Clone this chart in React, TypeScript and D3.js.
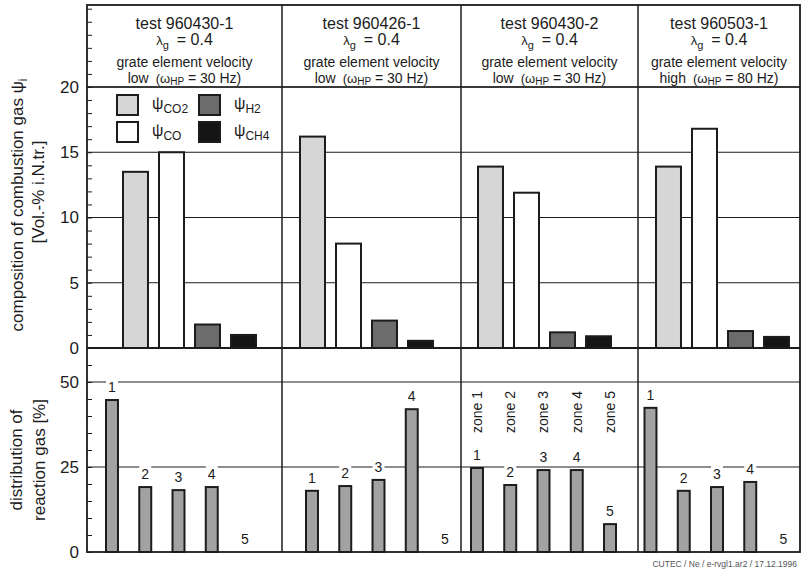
import React, { useEffect, useRef } from "react";
import * as d3 from "d3";

// test runs (one column each)
const tests = ["960430-1", "960426-1", "960430-2", "960503-1"];
const lambdaG = ["0.4", "0.4", "0.4", "0.4"];
const velocity = ["low", "low", "low", "high"];
const frequencyHz = [30, 30, 30, 80];

// composition of combustion gas [Vol.-% i.N.tr.]
const gases = ["CO2", "CO", "H2", "CH4"];
const psiCO2 = [13.5, 16.2, 13.9, 13.9];
const psiCO = [15.0, 8.0, 11.9, 16.8];
const psiH2 = [1.8, 2.1, 1.2, 1.3];
const psiCH4 = [1.0, 0.55, 0.9, 0.85];

// distribution of reaction gas [%] over grate zones
const zones = ["1", "2", "3", "4", "5"];
const zoneNames = ["zone 1", "zone 2", "zone 3", "zone 4", "zone 5"];
const reaction960430_1 = [44.7, 19.1, 18.2, 19.1, 0];
const reaction960426_1 = [18.0, 19.4, 21.2, 42.0, 0];
const reaction960430_2 = [24.7, 19.7, 24.1, 24.1, 8.2];
const reaction960503_1 = [42.4, 18.0, 19.1, 20.6, 0];

const topTickLabels = [0, 5, 10, 15, 20];
const bottomTickLabels = [0, 25, 50];

const W = 806;
const H = 572;
const font = "'Liberation Sans', Arial, Helvetica, sans-serif";
const ink = "#1c1c1c";

export default function App() {
  const ref = useRef<SVGSVGElement | null>(null);

  useEffect(() => {
    const svg = d3.select(ref.current);
    svg.selectAll("*").remove();

    const edges = [87, 282, 461, 638, 800];
    const frameTop = 5;
    const left = edges[0];
    const right = edges[4];

    const yTop = d3.scaleLinear().domain([0, 20]).range([348, 87]);
    const yBot = d3.scaleLinear().domain([0, 50]).range([552, 382]);
    const split = yTop(0);
    const bottom = yBot(0);

    const gasFill: Record<string, string> = {
      CO2: "#d6d6d6",
      CO: "#ffffff",
      H2: "#6c6c6c",
      CH4: "#151515"
    };
    const reactionFill = "#a2a2a2";

    // grid lines
    const grid = svg.append("g").attr("stroke", ink).attr("stroke-width", 1);
    topTickLabels
      .filter(v => v > 0)
      .forEach(v => {
        grid.append("line").attr("x1", left).attr("x2", right).attr("y1", yTop(v)).attr("y2", yTop(v));
      });
    bottomTickLabels
      .filter(v => v > 0)
      .forEach(v => {
        grid.append("line").attr("x1", left).attr("x2", right).attr("y1", yBot(v)).attr("y2", yBot(v));
      });

    // header text per test
    tests.forEach((t, i) => {
      const cx = (edges[i] + edges[i + 1]) / 2;
      const g = svg
        .append("g")
        .attr("font-family", font)
        .attr("fill", ink)
        .attr("text-anchor", "middle");
      g.append("text").attr("x", cx).attr("y", 29).attr("font-size", 16).text("test " + t);
      const l = g.append("text").attr("x", cx).attr("y", 45).attr("font-size", 16);
      l.append("tspan").attr("font-size", 13).text("λ");
      l.append("tspan").attr("font-size", 11).attr("dy", 4).text("g");
      l.append("tspan").attr("dy", -4).attr("dx", 8).text("= " + lambdaG[i]);
      g.append("text").attr("x", cx).attr("y", 67).attr("font-size", 14).text("grate element velocity");
      const v = g.append("text").attr("x", cx).attr("y", 83).attr("font-size", 14);
      v.append("tspan").text(velocity[i]);
      v.append("tspan").attr("dx", 7).attr("font-size", 13).text("(ω");
      v.append("tspan").attr("font-size", 10).attr("dy", 2).text("HP");
      v.append("tspan").attr("dy", -2).attr("font-size", 14).text(" = " + frequencyHz[i] + " Hz)");
    });

    // top panel: combustion gas bars
    const composition = [psiCO2, psiCO, psiH2, psiCH4];
    const topStart = [123, 300, 478, 656];
    tests.forEach((t, i) => {
      const x = d3
        .scaleBand()
        .domain(gases)
        .range([topStart[i], topStart[i] + 133])
        .paddingInner(0.306);
      svg
        .append("g")
        .selectAll("rect")
        .data(gases.map((gas, k) => ({ gas, value: composition[k][i] })))
        .enter()
        .append("rect")
        .attr("x", d => x(d.gas) as number)
        .attr("y", d => yTop(d.value))
        .attr("width", x.bandwidth())
        .attr("height", d => split - yTop(d.value))
        .attr("fill", d => gasFill[d.gas])
        .attr("stroke", ink)
        .attr("stroke-width", 2);
    });

    // bottom panel: reaction gas distribution
    const reaction = [reaction960430_1, reaction960426_1, reaction960430_2, reaction960503_1];
    const botStart = [106, 306, 471, 644.5];
    tests.forEach((t, i) => {
      const x = d3
        .scaleBand()
        .domain(zones)
        .range([botStart[i], botStart[i] + 145])
        .paddingInner(0.64);
      const data = zones.map((z, k) => ({ z, value: reaction[i][k] }));
      const g = svg.append("g");
      g.selectAll("rect.bar")
        .data(data.filter(d => d.value > 0))
        .enter()
        .append("rect")
        .attr("class", "bar")
        .attr("x", d => x(d.z) as number)
        .attr("y", d => yBot(d.value))
        .attr("width", x.bandwidth())
        .attr("height", d => bottom - yBot(d.value))
        .attr("fill", reactionFill)
        .attr("stroke", ink)
        .attr("stroke-width", 2);
      const lab = g
        .selectAll("g.lab")
        .data(data)
        .enter()
        .append("g")
        .attr("class", "lab")
        .attr(
          "transform",
          d => "translate(" + ((x(d.z) as number) + x.bandwidth() / 2) + "," + yBot(d.value) + ")"
        );
      lab.append("rect").attr("x", -6).attr("y", -21).attr("width", 12).attr("height", 16).attr("fill", "#fff");
      lab
        .append("text")
        .attr("y", -8)
        .attr("text-anchor", "middle")
        .attr("font-family", font)
        .attr("font-size", 14)
        .attr("fill", ink)
        .text(d => d.z);

      // zone names only in the third column
      if (i === 2) {
        g.selectAll("text.zone")
          .data(zoneNames)
          .enter()
          .append("text")
          .attr("class", "zone")
          .attr("transform", (d, k) => "translate(" + ((x(zones[k]) as number) + x.bandwidth() / 2) + ",433) rotate(-90)")
          .attr("dy", "0.35em")
          .attr("font-family", font)
          .attr("font-size", 14)
          .attr("fill", ink)
          .text(d => d);
      }
    });

    // legend
    const legend = svg.append("g").attr("font-family", font).attr("fill", ink);
    const legendPos = [
      [117, 95],
      [117, 122],
      [199, 95],
      [199, 122]
    ];
    gases.forEach((gas, k) => {
      const [lx, ly] = legendPos[k];
      legend
        .append("rect")
        .attr("x", lx)
        .attr("y", ly)
        .attr("width", 21)
        .attr("height", 20)
        .attr("fill", gasFill[gas])
        .attr("stroke", ink)
        .attr("stroke-width", 2);
      const t = legend.append("text").attr("x", lx + 35).attr("y", ly + 14).attr("font-size", 16);
      t.append("tspan").text("ψ");
      t.append("tspan").attr("font-size", 12).attr("dy", 4).text(gas);
    });

    // frame and panel dividers
    const frame = svg.append("g").attr("stroke", ink).attr("fill", "none");
    frame.append("rect").attr("x", left).attr("y", frameTop).attr("width", right - left).attr("height", bottom - frameTop).attr("stroke-width", 1.8);
    frame.append("line").attr("x1", left).attr("x2", right).attr("y1", split).attr("y2", split).attr("stroke-width", 1.8);
    frame.append("line").attr("x1", left).attr("x2", right).attr("y1", yTop(20)).attr("y2", yTop(20)).attr("stroke-width", 1.5);
    edges.slice(1, 4).forEach(e => {
      frame.append("line").attr("x1", e).attr("x2", e).attr("y1", frameTop).attr("y2", bottom).attr("stroke-width", 1.5);
    });

    // axes
    const styleAxis = (g: any, size: number) => {
      g.select(".domain").remove();
      g.attr("font-family", font).attr("font-size", size);
      g.selectAll("line").attr("stroke", ink);
      g.selectAll("text").attr("fill", ink);
    };
    svg
      .append("g")
      .attr("transform", "translate(" + left + ",0)")
      .call(
        d3
          .axisLeft(yTop)
          .tickValues(d3.range(0, 27))
          .tickSize(-5)
          .tickPadding(8)
          .tickFormat(d => (topTickLabels.includes(+d) ? String(d) : ""))
      )
      .call((g: any) => styleAxis(g, 17));
    svg
      .append("g")
      .attr("transform", "translate(" + left + ",0)")
      .call(
        d3
          .axisLeft(yBot)
          .tickValues(d3.range(0, 60, 5))
          .tickSize(-5)
          .tickPadding(8)
          .tickFormat(d => (bottomTickLabels.includes(+d) ? String(d) : ""))
      )
      .call((g: any) => styleAxis(g, 17));

    // axis titles
    const titles = svg
      .append("g")
      .attr("font-family", font)
      .attr("fill", ink)
      .attr("font-size", 17)
      .attr("text-anchor", "middle");
    const t1 = titles.append("text").attr("transform", "translate(17,205) rotate(-90)").attr("dy", "0.35em");
    t1.append("tspan").text("composition of combustion gas ψ");
    t1.append("tspan").attr("font-size", 12).attr("dy", 4).text("i");
    titles.append("text").attr("transform", "translate(38,192) rotate(-90)").attr("dy", "0.35em").text("[Vol.-% i.N.tr.]");
    titles.append("text").attr("transform", "translate(16,460) rotate(-90)").attr("dy", "0.35em").text("distribution of");
    titles.append("text").attr("transform", "translate(39,460) rotate(-90)").attr("dy", "0.35em").text("reaction gas [%]");

    // footer
    svg
      .append("text")
      .attr("x", 797)
      .attr("y", 567)
      .attr("text-anchor", "end")
      .attr("font-family", font)
      .attr("font-size", 8.5)
      .attr("fill", "#555")
      .text("CUTEC / Ne / e-rvgl1.ar2 / 17.12.1996");
  }, []);

  return (
    <svg
      ref={ref}
      width={W}
      height={H}
      style={{ position: "absolute", left: 0, top: 0, background: "#fff" }}
    />
  );
}
